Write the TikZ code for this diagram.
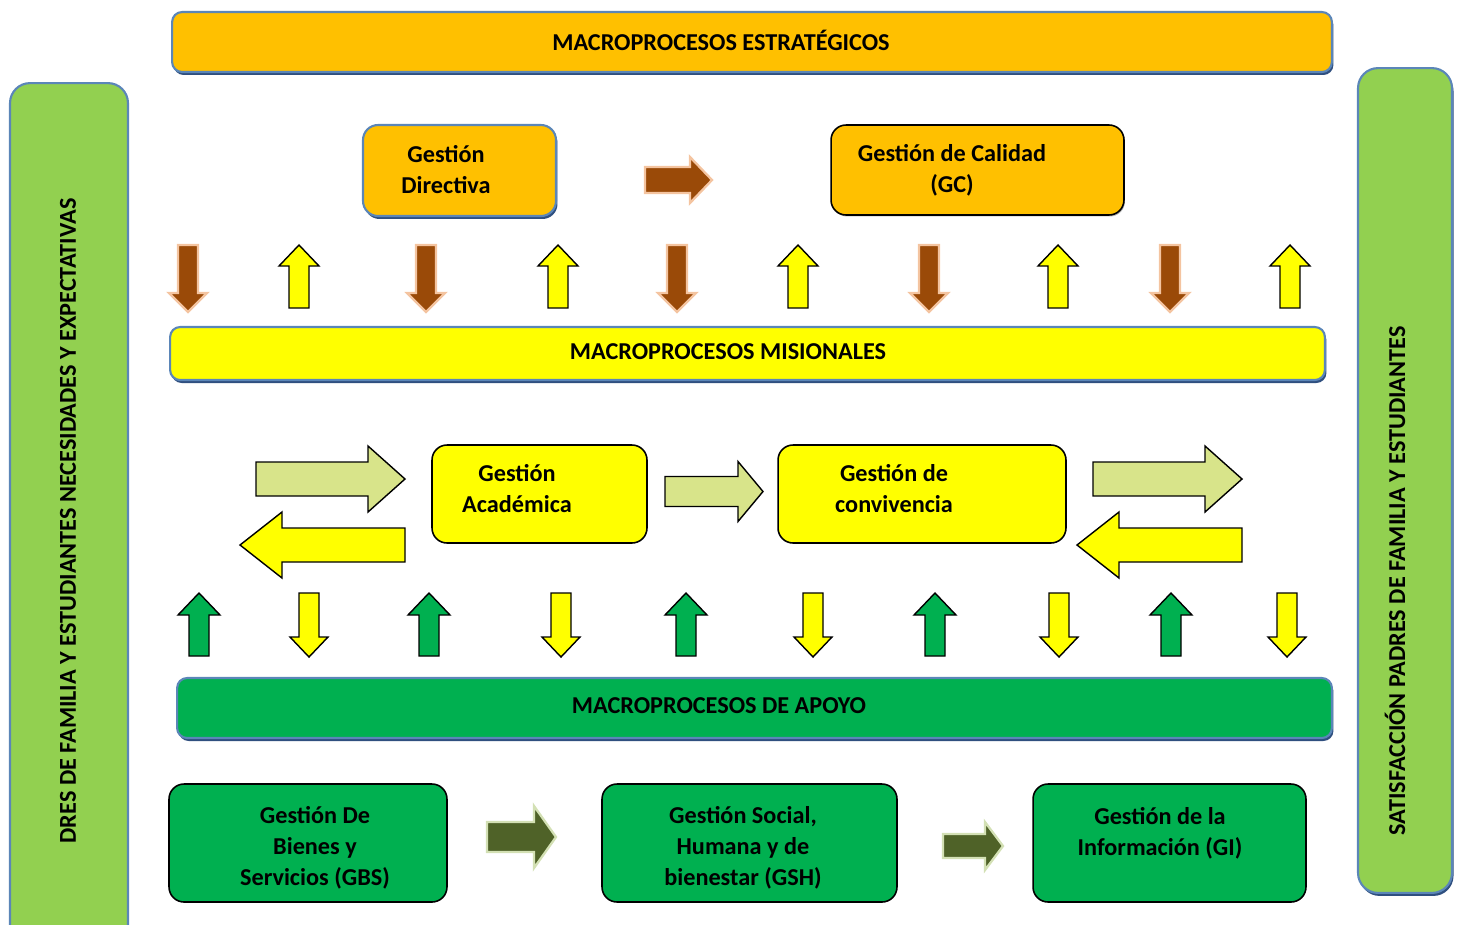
\documentclass[tikz,border=0pt]{standalone}
\usepackage{fontspec}
\setmainfont{Carlito}
\usetikzlibrary{shadows}

\definecolor{estrorange}{HTML}{FFC000}
\definecolor{misyellow}{HTML}{FFFF00}
\definecolor{apoyogreen}{HTML}{00B050}
\definecolor{sidegreen}{HTML}{92D050}
\definecolor{bandblue}{HTML}{5B86B8}
\definecolor{shadowblue}{HTML}{2F4F7F}
\definecolor{paleolive}{HTML}{D8E48A}
\definecolor{arrbrown}{HTML}{9A4A08}
\definecolor{arrpeach}{HTML}{F4C4A0}
\definecolor{darkolive}{HTML}{4F6228}
\definecolor{oliveglow}{HTML}{D3E0B4}

\tikzset{
  band/.style={draw=bandblue, line width=1.2pt, rounded corners=0.2cm, inner sep=0pt,
    drop shadow={shadow xshift=0.03cm, shadow yshift=-0.06cm, fill=shadowblue, opacity=1}},
  procbox/.style={draw=black, line width=0.9pt, rounded corners=0.3cm, inner sep=0pt},
  sidepanel/.style={draw=bandblue, line width=1.2pt, rounded corners=0.4cm, fill=sidegreen, inner sep=0pt},
  boxtext/.style={align=center, inner sep=0pt, font=\bfseries\fontsize{13.8}{17.6}\selectfont},
  brownarr/.style={fill=arrbrown, draw=arrpeach, line width=1.3pt},
  yellowarr/.style={fill=misyellow, draw=black, line width=0.8pt},
  greenarr/.style={fill=apoyogreen, draw=black, line width=0.8pt},
  palearr/.style={fill=paleolive, draw=black, line width=0.8pt},
  olivearr/.style={fill=darkolive, draw=oliveglow, line width=1.3pt},
  pics/blockarr/.style n args={4}{code={
    \path[pic actions] (0,-#2) -- ({#1-#4},-#2) -- ({#1-#4},-#3) -- (#1,0)
      -- ({#1-#4},#3) -- ({#1-#4},#2) -- (0,#2) -- cycle;
  }},
}

\begin{document}
\begin{tikzpicture}[x=0.02cm, y=-0.02cm]
  \useasboundingbox (0,0) rectangle (1459,924);
  \clip (0,0) rectangle (1459,924);

  % side panels
  \node[sidepanel, minimum width=2.36cm, minimum height=17.4cm] (needs) at (69,518) {};
  \node[boxtext, rotate=90] (needs-label) at (68,521) {DRES DE FAMILIA Y ESTUDIANTES NECESIDADES Y EXPECTATIVAS};
  \node[sidepanel, minimum width=1.88cm, minimum height=16.5cm,
    drop shadow={shadow xshift=0.03cm, shadow yshift=-0.06cm, fill=shadowblue, opacity=1}] (satisf) at (1405,480.5) {};
  \node[boxtext, rotate=90] (satisf-label) at (1395,581) {SATISFACCIÓN PADRES DE FAMILIA Y ESTUDIANTES};

  % estrategicos
  \node[band, fill=estrorange, minimum width=23.2cm, minimum height=1.2cm] (estr) at (752,42) {};
  \node[boxtext] (estr-label) at (721,40) {MACROPROCESOS ESTRATÉGICOS};

  \node[band, fill=estrorange, rounded corners=0.3cm, minimum width=3.86cm, minimum height=1.82cm] (gdir) at (459.5,170.5) {};
  \node[boxtext] (gdir-label) at (446,170) {Gestión\\Directiva};
  \node[procbox, fill=estrorange, minimum width=5.86cm, minimum height=1.8cm,
    drop shadow={shadow xshift=0.02cm, shadow yshift=-0.03cm, fill=gray!60, opacity=1}] (gc) at (977.5,170) {};
  \node[boxtext] (gc-label) at (952,170) {Gestión de Calidad\\(GC)};
  \pic[brownarr] at (645,180) {blockarr={67}{13}{23}{22}};

  \pic[brownarr, rotate=-90] at (188,245) {blockarr={67}{10}{19}{19}};
  \pic[yellowarr, rotate=90] at (299,308) {blockarr={63}{10}{20}{21}};
  \pic[brownarr, rotate=-90] at (426,245) {blockarr={67}{10}{19}{19}};
  \pic[yellowarr, rotate=90] at (558,308) {blockarr={63}{10}{20}{21}};
  \pic[brownarr, rotate=-90] at (677,245) {blockarr={67}{10}{19}{19}};
  \pic[yellowarr, rotate=90] at (798,308) {blockarr={63}{10}{20}{21}};
  \pic[brownarr, rotate=-90] at (929,245) {blockarr={67}{10}{19}{19}};
  \pic[yellowarr, rotate=90] at (1058,308) {blockarr={63}{10}{20}{21}};
  \pic[brownarr, rotate=-90] at (1170,245) {blockarr={67}{10}{19}{19}};
  \pic[yellowarr, rotate=90] at (1290,308) {blockarr={63}{10}{20}{21}};

  % misionales
  \node[band, fill=misyellow, minimum width=23.1cm, minimum height=1.06cm] (mis) at (747.5,353.5) {};
  \node[boxtext] (mis-label) at (728,352) {MACROPROCESOS MISIONALES};

  \pic[palearr] at (256,479) {blockarr={149}{17}{33}{37}};
  \pic[yellowarr, rotate=180] at (405,545) {blockarr={165}{17}{33}{42}};
  \node[procbox, fill=misyellow, minimum width=4.3cm, minimum height=1.96cm] (gacad) at (539.5,494) {};
  \node[boxtext] (gacad-label) at (517,489) {Gestión\\Académica};
  \pic[palearr] at (665,491.5) {blockarr={98}{15}{30}{25}};
  \node[procbox, fill=misyellow, minimum width=5.76cm, minimum height=1.96cm] (gconv) at (922,494) {};
  \node[boxtext] (gconv-label) at (894,489) {Gestión de\\convivencia};
  \pic[palearr] at (1093,479) {blockarr={149}{17}{33}{37}};
  \pic[yellowarr, rotate=180] at (1242,545) {blockarr={165}{17}{33}{42}};

  \pic[greenarr, rotate=90] at (199,656) {blockarr={63}{10}{21}{22}};
  \pic[yellowarr, rotate=-90] at (309,593) {blockarr={64}{10}{19}{20}};
  \pic[greenarr, rotate=90] at (429,656) {blockarr={63}{10}{21}{22}};
  \pic[yellowarr, rotate=-90] at (561,593) {blockarr={64}{10}{19}{20}};
  \pic[greenarr, rotate=90] at (686,656) {blockarr={63}{10}{21}{22}};
  \pic[yellowarr, rotate=-90] at (813,593) {blockarr={64}{10}{19}{20}};
  \pic[greenarr, rotate=90] at (935,656) {blockarr={63}{10}{21}{22}};
  \pic[yellowarr, rotate=-90] at (1059,593) {blockarr={64}{10}{19}{20}};
  \pic[greenarr, rotate=90] at (1171,656) {blockarr={63}{10}{21}{22}};
  \pic[yellowarr, rotate=-90] at (1287,593) {blockarr={64}{10}{19}{20}};

  % apoyo
  \node[band, fill=apoyogreen, minimum width=23.1cm, minimum height=1.2cm] (apoyo) at (754.5,708) {};
  \node[boxtext] (apoyo-label) at (719,706) {MACROPROCESOS DE APOYO};

  \node[procbox, fill=apoyogreen, minimum width=5.56cm, minimum height=2.36cm] (gbs) at (308,843) {};
  \node[boxtext] (gbs-label) at (315,848) {Gestión De\\Bienes y\\Servicios (GBS)};
  \pic[olivearr] at (487,837) {blockarr={69}{15}{31}{22}};
  \node[procbox, fill=apoyogreen, minimum width=5.9cm, minimum height=2.36cm] (gsh) at (749.5,843) {};
  \node[boxtext] (gsh-label) at (743,848) {Gestión Social,\\Humana y de\\bienestar (GSH)};
  \pic[olivearr] at (943,846) {blockarr={60}{12}{24}{18}};
  \node[procbox, fill=apoyogreen, minimum width=5.46cm, minimum height=2.36cm] (gi) at (1169.5,843) {};
  \node[boxtext] (gi-label) at (1160,833) {Gestión de la\\Información (GI)};
\end{tikzpicture}
\end{document}
